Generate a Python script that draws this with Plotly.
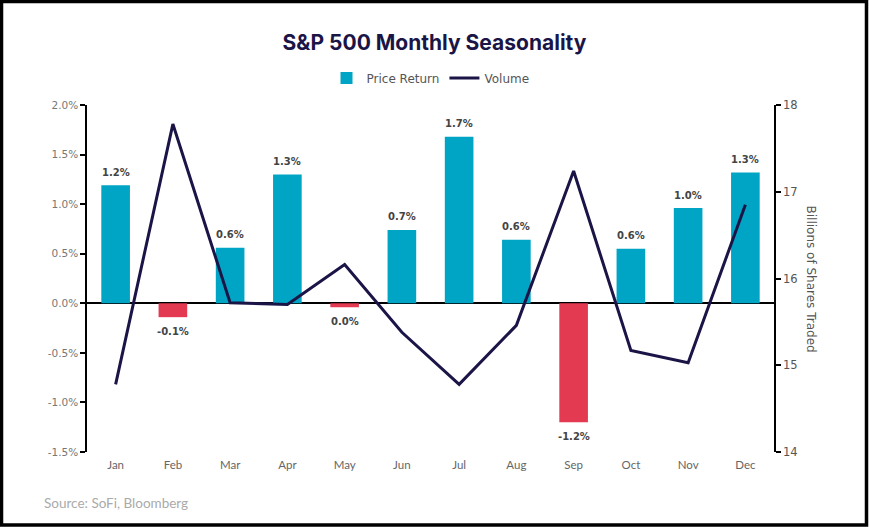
import plotly.graph_objects as go

months = ["Jan", "Feb", "Mar", "Apr", "May", "Jun", "Jul", "Aug", "Sep", "Oct", "Nov", "Dec"]
price_return = [1.19, -0.14, 0.56, 1.30, -0.04, 0.74, 1.68, 0.64, -1.20, 0.55, 0.96, 1.32]
volume = [14.78, 17.78, 15.72, 15.70, 16.16, 15.38, 14.78, 15.46, 17.24, 15.17, 15.03, 16.85]
left_ticks = [-1.5, -1.0, -0.5, 0.0, 0.5, 1.0, 1.5, 2.0]
left_tick_labels = ["-1.5%", "-1.0%", "-0.5%", "0.0%", "0.5%", "1.0%", "1.5%", "2.0%"]
right_ticks = [14, 15, 16, 17, 18]

TEAL = "#00A5C6"
RED = "#E33A52"
NAVY = "#1B1547"

def fmt(v):
    s = f"{v:.1f}%"
    return "0.0%" if s == "-0.0%" else s

bar_colors = [TEAL if v >= 0 else RED for v in price_return]
bar_text = [fmt(v) for v in price_return]

fig = go.Figure()
fig.add_trace(go.Bar(
    x=months, y=price_return, name="Price Return",
    marker=dict(color=bar_colors, line=dict(width=0)),
    yaxis="y",
))
fig.add_trace(go.Scatter(
    x=months, y=volume, name="Volume", mode="lines",
    line=dict(color=NAVY, width=3),
    yaxis="y2",
))

W, H = 869, 527
ml, mr, mt, mb = 87, 95, 105, 75
pw, ph = W - ml - mr, H - mt - mb

def px_x(x):
    return (x - ml) / pw

def px_y(y):
    return 1 - (y - mt) / ph

annotations = []
for m, v, t in zip(months, price_return, bar_text):
    annotations.append(dict(
        x=m, y=v, xref="x", yref="y", text=f"<b>{t}</b>", showarrow=False,
        yshift=13 if v >= 0 else -14, xanchor="center", yanchor="middle",
        font=dict(family="DejaVu Sans", size=10, color="#444444"),
    ))
annotations += [
    dict(text="Billions of Shares Traded", textangle=90, xref="paper", yref="paper",
         x=px_x(811), y=0.5, showarrow=False, xanchor="center", yanchor="middle",
         font=dict(family="DejaVu Sans", size=12, color="#555555")),
    dict(text="Source: SoFi, Bloomberg", xref="paper", yref="paper",
         x=px_x(42), y=px_y(503), showarrow=False, xanchor="left", yanchor="middle",
         font=dict(family="Lato", size=13.5, color="#AAAAAA")),
]

fig.update_layout(
    width=W, height=H,
    margin=dict(l=ml, r=mr, t=mt, b=mb),
    paper_bgcolor="white", plot_bgcolor="white",
    bargap=0.5,
    showlegend=True,
    legend=dict(orientation="h", x=0.5, xanchor="center", y=px_y(78), yanchor="middle",
                font=dict(family="DejaVu Sans", size=12, color="#555555"),
                itemwidth=30, tracegroupgap=0, traceorder="normal"),
    title=dict(text="<b>S&P 500 Monthly Seasonality</b>", x=0.5, xanchor="center",
               y=1 - 43 / H, yanchor="middle",
               font=dict(family="Inter", size=21, color="#1B1547")),
    xaxis=dict(showline=False, ticks="", showgrid=False,
               tickfont=dict(family="Lato", size=11.5, color="#666666"), ticklabelstandoff=4),
    yaxis=dict(range=[-1.5, 2.0], tickvals=left_ticks, ticktext=left_tick_labels,
               showgrid=False, showline=True, linecolor="black", linewidth=1.5,
               ticks="outside", ticklen=5, tickcolor="black", tickwidth=1.5,
               zeroline=True, zerolinecolor="black", zerolinewidth=1.5,
               tickfont=dict(family="DejaVu Sans", size=10.5, color="#777777")),
    yaxis2=dict(range=[14, 18], tickvals=right_ticks, overlaying="y", side="right",
                showgrid=False, showline=True, linecolor="black", linewidth=1.5,
                ticks="outside", ticklen=5, tickcolor="black", tickwidth=1.5,
                zeroline=False,
                tickfont=dict(family="DejaVu Sans", size=11.5, color="#555555")),
    annotations=annotations,
    shapes=[
        dict(type="rect", xref="paper", yref="paper",
             x0=px_x(1.5), x1=px_x(W - 2.5), y0=px_y(H - 2), y1=px_y(1.5),
             line=dict(color="black", width=3.5), fillcolor="rgba(0,0,0,0)", layer="above"),
    ],
)

fig.write_html("out.html", config={"displayModeBar": False},
               post_script="document.body.style.margin='0';document.body.style.overflow='hidden';")
